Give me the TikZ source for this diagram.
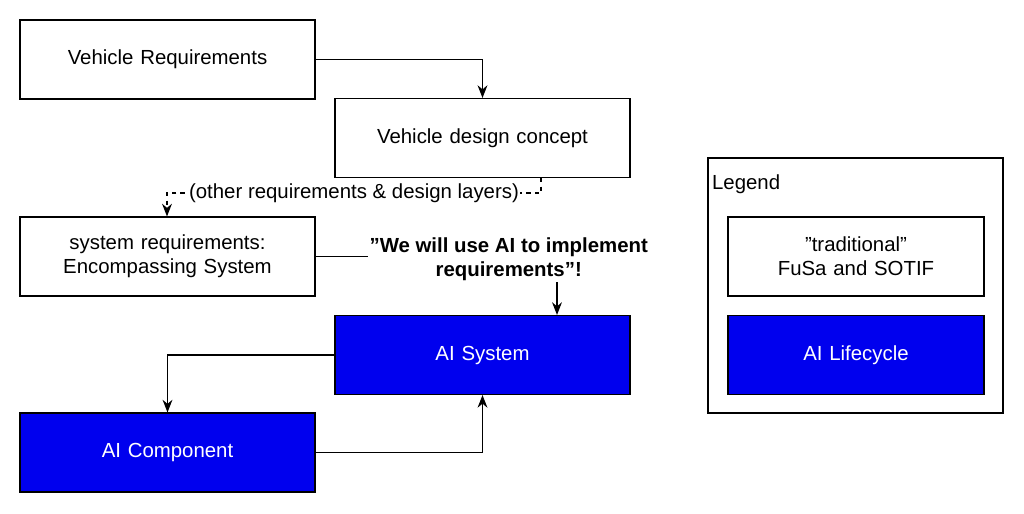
\documentclass[tikz,border=0pt]{standalone}
\usepackage{fontspec}
\setmainfont{Liberation Sans}
\usetikzlibrary{arrows.meta,positioning}
\definecolor{aiblue}{RGB}{0,0,238}
\tikzstyle{block} = [rectangle, draw, thick, fill=white, text width=6.6cm, align=center, minimum width=7.375cm, minimum height=1.975cm, font=\fontsize{14.5}{17}\selectfont]
\tikzstyle{aiblock} = [block, fill=aiblue, text=white]
\tikzstyle{line} = [draw, thick, -{Stealth[length=9pt,width=7pt]}]
\begin{document}
\begin{tikzpicture}[x=0.025cm, y=-0.025cm]
    \useasboundingbox (0,0) rectangle (1024,513);
    \node [block] (vehReq) at (167.5,59.5) {Vehicle Requirements};
    \node [block] (vehDesign) at (482.5,138) {Vehicle design concept};
    \node [block] (sysReq) at (167.5,256.5) {system requirements:\\Encompassing System};
    \node [aiblock] (aiSystem) at (482.5,355) {AI System};
    \node [aiblock] (aiComponent) at (167.5,452.5) {AI Component};
    % legend
    \node [draw, thick, minimum width=7.375cm, minimum height=6.375cm] (legend) at (855.5,285.5) {};
    \node [anchor=north west, inner sep=2pt, font=\fontsize{14.5}{17}\selectfont] (legendTitle) at (709,172) {Legend};
    \node [block, minimum width=6.4cm, text width=6cm] (legTrad) at (856,256.5) {"traditional" FuSa and SOTIF};
    \node [aiblock, minimum width=6.4cm, text width=6cm] (legAI) at (856,355) {AI Lifecycle};
    % connectors
    \path [line] (vehReq.east) -| (vehDesign.north);
    \path [line, dashed] (vehDesign.south -| 541,0) |- (167,193) node [pos=0.75, fill=white, inner sep=1pt, font=\fontsize{14.5}{17}\selectfont] {(other requirements \& design layers)} -- (sysReq.north -| 167,0);
    \path [line] (sysReq.east) -| (aiSystem.north -| 557,0) node [pos=0.4, fill=white, inner sep=1pt, align=center, font=\bfseries\fontsize{14.5}{17}\selectfont, yshift=-2pt] {"We will use AI to implement\\requirements"!};
    \path [line] (aiSystem.west) -| (aiComponent.north);
    \path [line] (aiComponent.east) -| (aiSystem.south);
\end{tikzpicture}
\end{document}
